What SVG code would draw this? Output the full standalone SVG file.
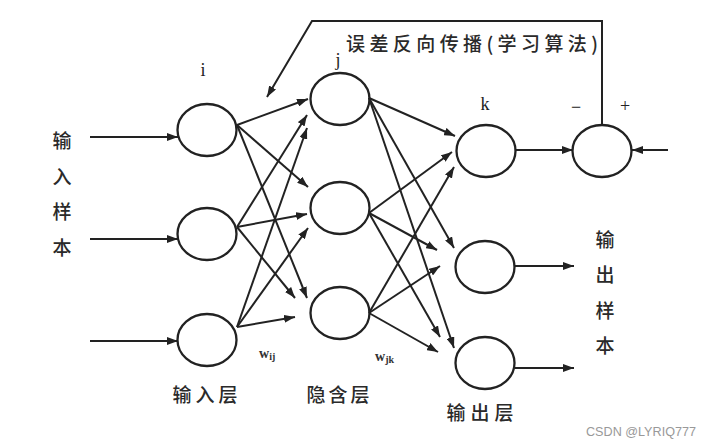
<svg xmlns="http://www.w3.org/2000/svg" width="713" height="447" viewBox="0 0 713 447">
<style>
.node{fill:none;stroke:#222;stroke-width:2.3}
.ln{stroke:#222;stroke-width:2;fill:none;marker-end:url(#ah)}
.cn{font-family:"Noto Sans CJK SC","Noto Sans",sans-serif;font-size:19px;fill:#2a2a2a;font-weight:500;text-anchor:middle;dominant-baseline:central}
.lt{font-family:"Liberation Serif",serif;font-size:18px;fill:#222;text-anchor:middle;dominant-baseline:central}
.w{font-family:"Liberation Serif",serif;font-size:14px;fill:#333;font-weight:bold}
</style>
<defs>
<marker id="ah" markerUnits="userSpaceOnUse" markerWidth="11" markerHeight="8" refX="11" refY="4" orient="auto">
<path d="M0,0 L11,4 L0,8 z" fill="#222"/>
</marker>
</defs>
<rect width="713" height="447" fill="#fff"/>
<g id="connectors">
<line class="ln" x1="90" y1="137" x2="178" y2="137"/>
<line class="ln" x1="90" y1="239" x2="178" y2="239"/>
<line class="ln" x1="90" y1="341" x2="178" y2="341"/>
<line class="ln" x1="237" y1="125" x2="308" y2="99"/>
<line class="ln" x1="237" y1="125" x2="308" y2="187"/>
<line class="ln" x1="237" y1="125" x2="307" y2="298"/>
<line class="ln" x1="237" y1="227" x2="307" y2="115"/>
<line class="ln" x1="237" y1="227" x2="307" y2="214"/>
<line class="ln" x1="237" y1="227" x2="295" y2="298"/>
<line class="ln" x1="237" y1="327" x2="307" y2="128"/>
<line class="ln" x1="237" y1="327" x2="308" y2="228"/>
<line class="ln" x1="237" y1="327" x2="295" y2="317"/>
<line class="ln" x1="369" y1="98" x2="455" y2="136"/>
<line class="ln" x1="369" y1="98" x2="454" y2="248"/>
<line class="ln" x1="369" y1="98" x2="454" y2="348"/>
<line class="ln" x1="369" y1="213" x2="452" y2="152"/>
<line class="ln" x1="369" y1="213" x2="437" y2="250"/>
<line class="ln" x1="369" y1="213" x2="440" y2="337"/>
<line class="ln" x1="369" y1="313" x2="454" y2="167"/>
<line class="ln" x1="369" y1="313" x2="440" y2="266"/>
<line class="ln" x1="369" y1="313" x2="438" y2="352"/>
<line class="ln" x1="515" y1="150" x2="573" y2="150"/>
<line class="ln" x1="668" y1="150" x2="632" y2="150"/>
<line class="ln" x1="515" y1="266" x2="574" y2="266"/>
<line class="ln" x1="515" y1="368" x2="574" y2="368"/>
<path class="ln" d="M602,125 L602,21 L312,21 L267,97"/>
</g>
<g id="i1"><ellipse class="node" cx="207" cy="130" rx="29.5" ry="26"/></g>
<g id="i2"><ellipse class="node" cx="207" cy="234" rx="29.5" ry="26"/></g>
<g id="i3"><ellipse class="node" cx="207" cy="340" rx="29.5" ry="26"/></g>
<g id="j1"><ellipse class="node" cx="340" cy="99" rx="29.5" ry="26"/></g>
<g id="j2"><ellipse class="node" cx="340" cy="208" rx="29.5" ry="26"/></g>
<g id="j3"><ellipse class="node" cx="340" cy="313" rx="29.5" ry="26"/></g>
<g id="k1"><ellipse class="node" cx="486" cy="151" rx="29.5" ry="26"/></g>
<g id="k2"><ellipse class="node" cx="485" cy="267" rx="29.5" ry="26"/></g>
<g id="k3"><ellipse class="node" cx="485" cy="363" rx="29.5" ry="26"/></g>
<g id="sum"><ellipse class="node" cx="602" cy="151" rx="29.5" ry="26"/></g>
<g id="labels">
<text class="cn" x="472" y="42" textLength="252" lengthAdjust="spacing">误差反向传播(学习算法)</text>
<text class="lt" x="203" y="70">i</text>
<text class="lt" x="338" y="60">j</text>
<text class="lt" x="485" y="104">k</text>
<text class="lt" x="576" y="107">−</text>
<text class="lt" x="625" y="106">+</text>
<text class="cn" x="62" y="139">输</text>
<text class="cn" x="62" y="175">入</text>
<text class="cn" x="62" y="210">样</text>
<text class="cn" x="62" y="246">本</text>
<text class="cn" x="605" y="238">输</text>
<text class="cn" x="605" y="273">出</text>
<text class="cn" x="605" y="309">样</text>
<text class="cn" x="605" y="344">本</text>
<text class="cn" x="205" y="393" textLength="65" lengthAdjust="spacing">输入层</text>
<text class="cn" x="338" y="393" textLength="63" lengthAdjust="spacing">隐含层</text>
<text class="cn" x="480" y="411" textLength="67" lengthAdjust="spacing">输出层</text>
<text class="w" x="259" y="358">w<tspan font-size="10" dy="2">ij</tspan></text>
<text class="w" x="375" y="361">w<tspan font-size="10" dy="2">jk</tspan></text>
<text x="586" y="436" font-family="Liberation Sans,Arial,sans-serif" font-size="13" fill="#999" textLength="110" lengthAdjust="spacingAndGlyphs">CSDN @LYRIQ777</text>
</g>
</svg>
